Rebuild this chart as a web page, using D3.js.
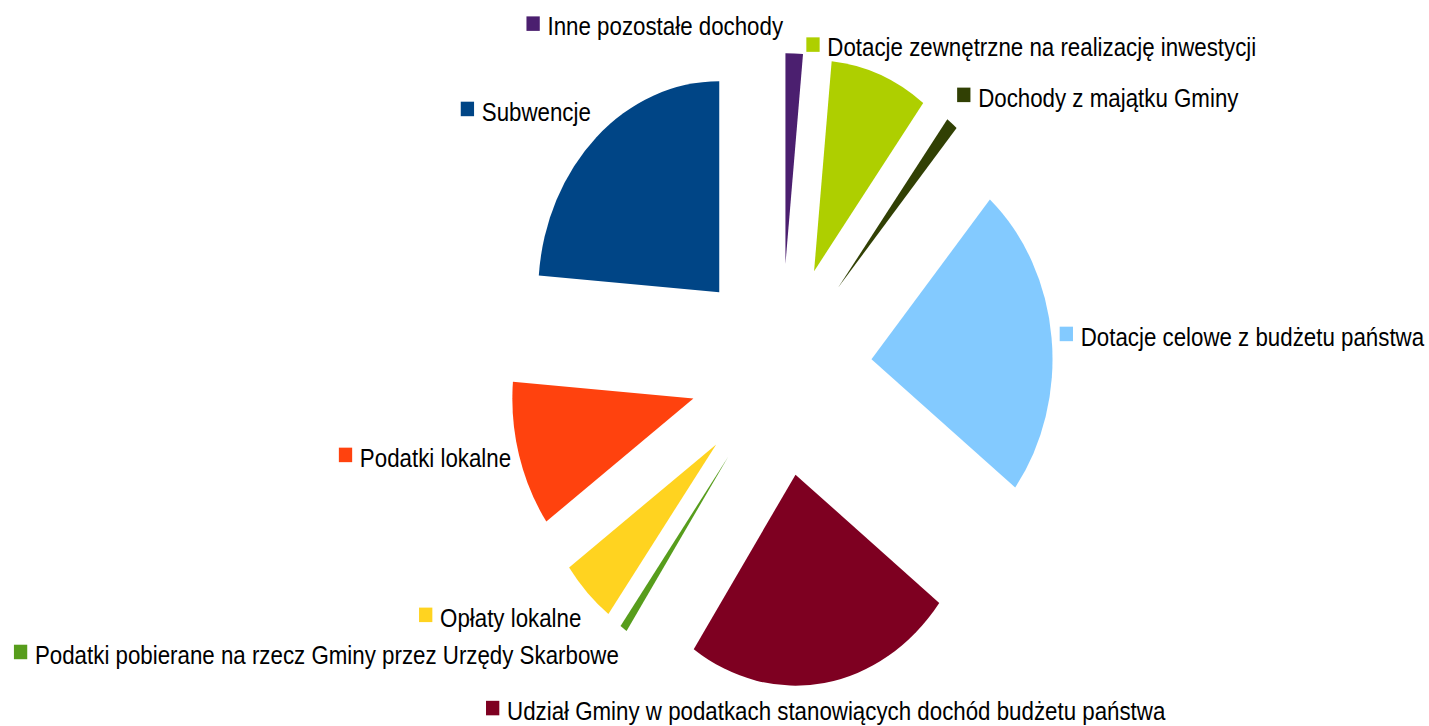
<!DOCTYPE html>
<html>
<head>
<meta charset="utf-8">
<script src="https://cdn.jsdelivr.net/npm/d3@7"></script>
<style>
  body { margin: 0; background: #ffffff; }
  svg { display: block; }
  .label { font-family: "Liberation Sans", Arial, sans-serif; font-size: 26px; fill: #000000; }
</style>
</head>
<body>
<div id="pie"></div>
<script>
// Data (share of income, %), in the spreadsheet's series order
var categories = [
  "Subwencje",
  "Podatki lokalne",
  "Opłaty lokalne",
  "Podatki pobierane na rzecz Gminy przez Urzędy Skarbowe",
  "Udział Gminy w podatkach stanowiących dochód budżetu państwa",
  "Dotacje celowe z budżetu państwa",
  "Dochody z majątku Gminy",
  "Dotacje zewnętrzne na realizację inwestycji",
  "Inne pozostałe dochody"
];
var shares = [23.75, 11.17, 4.94, 0.65, 24.11, 24.06, 1.05, 8.75, 1.55];
var colors = ["#004586", "#ff420e", "#ffd320", "#579d1c", "#7e0021", "#83caff", "#314004", "#aecf00", "#4b1f6f"];

var svgWidth = 1429;
var svgHeight = 726;

// the picture is squeezed horizontally, so draw round and scale x
var squash = 0.858;
var cx = 781 / squash;
var cy = 370;
var radius = 211;
var explode = 106;
var labelRadius = 326.5;

// the two labels at the top were pushed apart by hand in the original
var labelNudge = {
  "Inne pozostałe dochody": [-163, 1],
  "Dotacje zewnętrzne na realizację inwestycji": [173, 0]
};

var svg = d3.select("#pie")
  .append("svg")
  .attr("width", svgWidth)
  .attr("height", svgHeight);

var chartGroup = svg.append("g")
  .attr("transform", `scale(${squash},1)`);

var pieGroup = chartGroup.append("g")
  .attr("transform", `translate(${cx}, ${cy})`);

var data = categories.map((c, i) => ({ name: c, value: shares[i], color: colors[i] }));

// counter-clockwise from 12 o'clock, like the source
var pie = d3.pie()
  .sort(null)
  .startAngle(0)
  .endAngle(-2 * Math.PI)
  .value(d => d.value);

var arc = d3.arc()
  .innerRadius(0)
  .outerRadius(radius);

var arcs = pie(data);
arcs.forEach(a => { a.mid = (a.startAngle + a.endAngle) / 2; });

// Slices, each pushed out along its bisector
pieGroup.selectAll("path")
  .data(arcs)
  .enter()
  .append("path")
  .attr("d", arc)
  .attr("fill", d => d.data.color)
  .attr("transform", d => `translate(${explode * Math.sin(d.mid)}, ${-explode * Math.cos(d.mid)})`);

// Labels: legend square + text, aligned by angle
var ascent = 23.5, descent = 5.5, pad = 4;
var boxW = 15.5, boxH = 14.5, gap = 9;

var labels = pieGroup.selectAll(".lab")
  .data(arcs)
  .enter()
  .append("g")
  .attr("class", "lab");

labels.append("rect")
  .attr("y", -19)
  .attr("width", boxW)
  .attr("height", boxH)
  .attr("fill", d => d.data.color);

labels.append("text")
  .attr("class", "label")
  .attr("x", boxW + gap)
  .text(d => d.data.name);

labels.each(function(d) {
  var g = d3.select(this);
  var w = boxW + gap + g.select("text").node().getComputedTextLength();
  var ax = labelRadius * Math.sin(d.mid);
  var ay = -labelRadius * Math.cos(d.mid);
  var alpha = ((90 - d.mid * 180 / Math.PI) % 360 + 360) % 360;

  var h, v;
  if (alpha <= 22.5 || alpha > 337.5) { h = "right"; v = "mid"; }
  else if (alpha < 67.5) { h = "right"; v = "top"; }
  else if (alpha < 112.5) { h = "center"; v = "top"; }
  else if (alpha <= 157.5) { h = "left"; v = "top"; }
  else if (alpha <= 202.5) { h = "left"; v = "mid"; }
  else if (alpha < 247.5) { h = "left"; v = "bottom"; }
  else if (alpha < 292.5) { h = "center"; v = "bottom"; }
  else { h = "right"; v = "bottom"; }

  var left = h === "right" ? ax : (h === "left" ? ax - w : ax - w / 2);
  var base = v === "top" ? ay - descent - pad
    : (v === "bottom" ? ay + ascent + pad : ay + (ascent - descent) / 2);

  var nudge = labelNudge[d.data.name] || [0, 0];
  left += nudge[0];
  base += nudge[1];

  g.attr("transform", `translate(${left}, ${base})`);
});
</script>
</body>
</html>
